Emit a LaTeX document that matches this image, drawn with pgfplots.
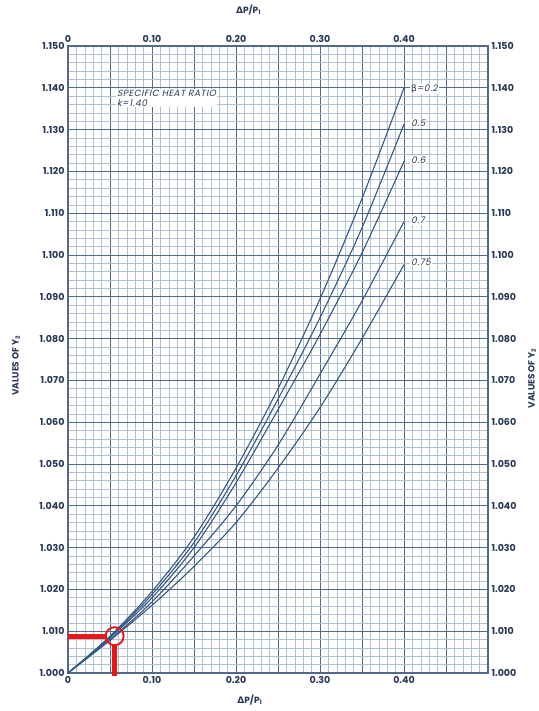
\documentclass[border=0pt]{standalone}
\usepackage{pgfplots}
\pgfplotsset{compat=1.18}
\usetikzlibrary{calc}
\usepackage{fontspec}
\setmainfont{Poppins}
\newfontfamily\dejavu{DejaVu Sans}
\newfontfamily\slant[FakeSlant=0.22, LetterSpace=6]{Poppins}
\definecolor{gridmaj}{RGB}{80,105,140}
\definecolor{gridmin}{RGB}{178,192,212}
\definecolor{curve}{RGB}{55,88,130}
\definecolor{ink}{RGB}{40,55,85}
\definecolor{redm}{RGB}{238,20,20}

\pgfplotstableread{
x y
0.00 1.0000
0.05 1.0088
0.10 1.0195
0.15 1.0325
0.20 1.0490
0.25 1.0680
0.30 1.0895
0.35 1.1135
0.40 1.1400
}\bA
\pgfplotstableread{
x y
0.00 1.0000
0.05 1.0086
0.10 1.0188
0.15 1.0312
0.20 1.0472
0.25 1.0655
0.30 1.0850
0.35 1.1065
0.40 1.1313
}\bB
\pgfplotstableread{
x y
0.00 1.0000
0.05 1.0084
0.10 1.0180
0.15 1.0300
0.20 1.0455
0.25 1.0630
0.30 1.0810
0.35 1.1005
0.40 1.1224
}\bC
\pgfplotstableread{
x y
0.00 1.0000
0.05 1.0080
0.10 1.0170
0.15 1.0280
0.20 1.0400
0.25 1.0545
0.30 1.0715
0.35 1.0890
0.40 1.1080
}\bD
\pgfplotstableread{
x y
0.00 1.0000
0.05 1.0078
0.10 1.0162
0.15 1.0255
0.20 1.0360
0.25 1.0490
0.30 1.0635
0.35 1.0800
0.40 1.0977
}\bE

\begin{document}
\begin{tikzpicture}
\pgfplotsset{
  common/.style={
    scale only axis, width=420pt, height=627pt,
    xmin=0, xmax=0.5, ymin=1, ymax=1.15,
    xtick={0,0.05,0.1,0.15,0.2,0.25,0.3,0.35,0.4,0.45,0.5},
    xticklabels={0,,0.10,,0.20,,0.30,,0.40,,},
    ytick={1.00,1.01,1.02,1.03,1.04,1.05,1.06,1.07,1.08,1.09,1.10,1.11,1.12,1.13,1.14,1.15},
    yticklabels={1.000,1.010,1.020,1.030,1.040,1.050,1.060,1.070,1.080,1.090,1.100,1.110,1.120,1.130,1.140,1.150},
    major tick length=0pt, minor tick length=0pt,
    tick label style={font=\bfseries\fontsize{9.5}{11}\selectfont, text=ink},
    clip=false,
  }
}
\begin{axis}[common,
  minor x tick num=4, minor y tick num=4,
  grid=both,
  major grid style={gridmaj, line width=0.8pt},
  minor grid style={gridmin, line width=0.55pt},
  axis line style={gridmaj, line width=1.1pt},
  xticklabel pos=lower, yticklabel pos=left,
]
\coordinate (sw) at (rel axis cs:0,0);
\coordinate (ne) at (rel axis cs:1,1);
\addplot[curve, line width=1.1pt, smooth] table {\bA};
\addplot[curve, line width=1.1pt, smooth] table {\bB};
\addplot[curve, line width=1.1pt, smooth] table {\bC};
\addplot[curve, line width=1.1pt, smooth] table {\bD};
\addplot[curve, line width=1.1pt, smooth] table {\bE};
\addplot[redm, line width=4.8pt] coordinates {(0,1.0088) (0.046,1.0088)};
\addplot[redm, line width=4.8pt] coordinates {(0.0555,1.0066) (0.0555,0.9992)};
\addplot[redm, line width=1.9pt, only marks, mark=o, mark size=9pt] coordinates {(0.0555,1.0088)};
\node[anchor=west, fill=white, inner sep=1pt, text=ink, font=\slant\fontsize{9}{10}\selectfont] at (axis cs:0.407,1.1397) {{\dejavu β}=0.2};
\node[anchor=west, fill=white, inner sep=1pt, text=ink, font=\slant\fontsize{9}{10}\selectfont] at (axis cs:0.407,1.1316) {0.5};
\node[anchor=west, fill=white, inner sep=1pt, text=ink, font=\slant\fontsize{9}{10}\selectfont] at (axis cs:0.407,1.1227) {0.6};
\node[anchor=west, fill=white, inner sep=1pt, text=ink, font=\slant\fontsize{9}{10}\selectfont] at (axis cs:0.407,1.1082) {0.7};
\node[anchor=west, fill=white, inner sep=1pt, text=ink, font=\slant\fontsize{9}{10}\selectfont] at (axis cs:0.407,1.0983) {0.75};
\node[anchor=north west, align=left, fill=white, inner sep=1pt, text=ink, font=\slant\fontsize{9}{10}\selectfont] at (axis cs:0.057,1.1398) {SPECIFIC HEAT RATIO\\k=1.40};
\node[text=ink, font=\bfseries\fontsize{9}{10}\selectfont, yshift=-27pt] at (rel axis cs:0.433,0) {{\dejavu Δ}P/P\textsubscript{1}};
\node[text=ink, font=\bfseries\fontsize{9}{10}\selectfont, yshift=36pt] at (rel axis cs:0.43,1) {{\dejavu Δ}P/P\textsubscript{1}};
\node[rotate=90, text=ink, font=\bfseries\fontsize{9}{10}\selectfont, xshift=0pt, yshift=52pt] at (rel axis cs:0,0.49) {VALUES OF Y\textsubscript{2}};
\node[rotate=90, text=ink, font=\bfseries\fontsize{9}{10}\selectfont, yshift=-44pt] at (rel axis cs:1,0.47) {VALUES OF Y\textsubscript{2}};
\end{axis}
\begin{axis}[common,
  axis line style={draw=none},
  xticklabel pos=upper, yticklabel pos=right,
]
\end{axis}
\pgfresetboundingbox
\path[use as bounding box] ($(sw)+(-68pt,-38pt)$) rectangle ($(ne)+(50pt,46pt)$);
\end{tikzpicture}
\end{document}
